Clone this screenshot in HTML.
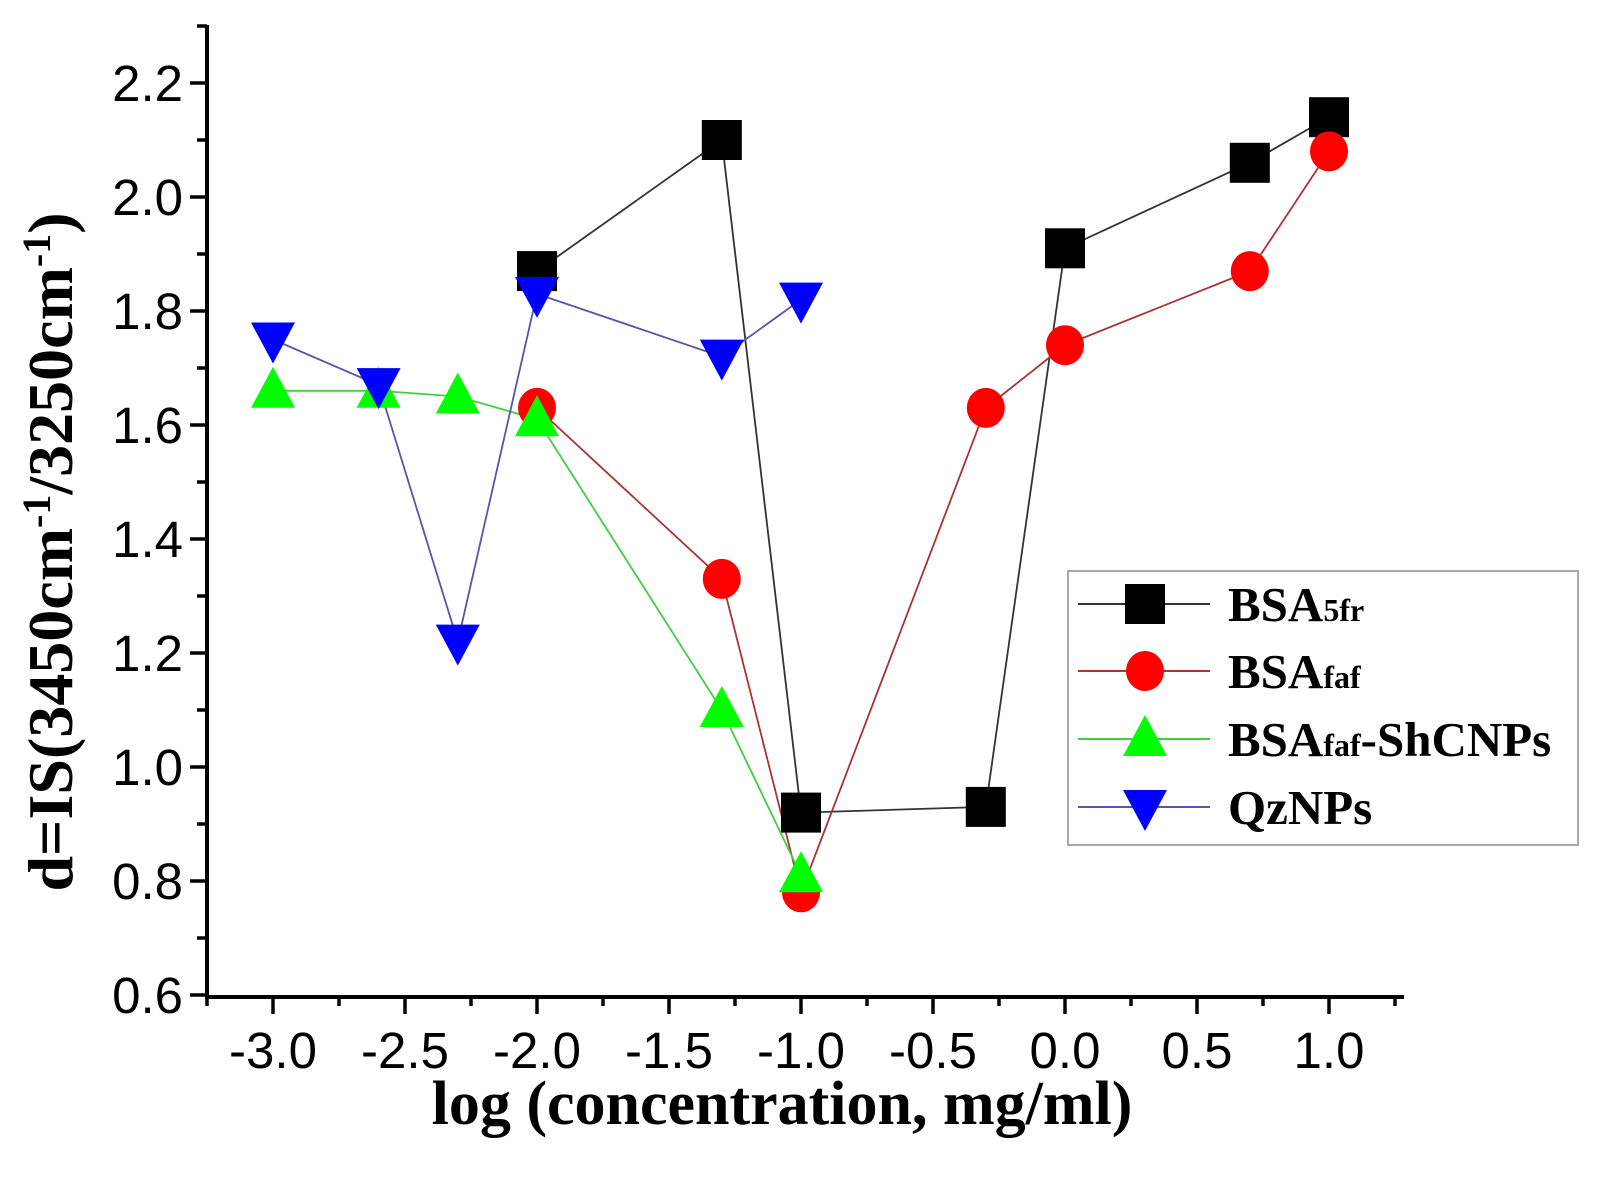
<!DOCTYPE html><html><head><style>body{margin:0;background:#fff}</style></head><body>
<svg id="s" width="1603" height="1183" xmlns="http://www.w3.org/2000/svg" font-family="Liberation Sans, sans-serif"></svg>
<script>
const s=document.getElementById('s');let h='';
const X=x=>273+(x+3)*264, Y=y=>995-(y-0.6)*570;
h+='<line x1="207" y1="25" x2="207" y2="997" stroke="#000" stroke-width="4"/>';
h+='<line x1="205" y1="997" x2="1404" y2="997" stroke="#000" stroke-width="4"/>';
for(let i=0;i<=17;i++){const v=0.6+i*0.1,y=Y(v),maj=i%2==0;
h+=`<line x1="${maj?190:197}" y1="${y}" x2="207" y2="${y}" stroke="#000" stroke-width="3.5"/>`;
if(maj)h+=`<text x="183" y="${y+18}" font-size="51" text-anchor="end">${v.toFixed(1)}</text>`;}
for(let i=-1;i<=17;i++){const v=-3+i*0.25,x=X(v),maj=i%2==0;if(x<207)continue;
h+=`<line x1="${x}" y1="997" x2="${x}" y2="${maj?1014:1006}" stroke="#000" stroke-width="3.5"/>`;
if(maj)h+=`<text x="${x}" y="1068" font-size="51" text-anchor="middle">${v.toFixed(1)}</text>`;}
h+='<text x="782" y="1124" font-size="62" font-weight="bold" font-family="Liberation Serif, serif" text-anchor="middle">log (concentration, mg/ml)</text>';
h+='<text transform="translate(72,552) rotate(-90)" font-size="64" font-weight="bold" font-family="Liberation Serif, serif" text-anchor="middle">d=IS(3450cm<tspan font-size="40" dy="-22">-1</tspan><tspan dy="22">/3250cm</tspan><tspan font-size="40" dy="-22">-1</tspan><tspan dy="22">)</tspan></text>';
const S=[
{c:'#000',l:'#333',m:'sq',d:[[-2,1.87],[-1.3,2.10],[-1,0.92],[-0.3,0.93],[0,1.91],[0.7,2.06],[1,2.14]]},
{c:'#f00',l:'#a33',m:'ci',d:[[-2,1.63],[-1.3,1.33],[-1,0.78],[-0.3,1.63],[0,1.74],[0.7,1.87],[1,2.08]]},
{c:'#0f0',l:'#4c4',m:'up',d:[[-3,1.66],[-2.6,1.66],[-2.3,1.65],[-2,1.61],[-1.3,1.10],[-1,0.81]]},
{c:'#00f',l:'#55a',m:'dn',d:[[-3,1.75],[-2.6,1.67],[-2.3,1.22],[-2,1.83],[-1.3,1.72],[-1,1.82]]}];
function mk(m,x,y,c){if(m=='sq')return `<rect x="${x-20}" y="${y-20}" width="40" height="40" fill="${c}"/>`;
if(m=='ci')return `<ellipse cx="${x}" cy="${y}" rx="19" ry="20" fill="${c}"/>`;
if(m=='up')return `<polygon points="${x},${y-24} ${x-22},${y+17} ${x+22},${y+17}" fill="${c}"/>`;
return `<polygon points="${x},${y+24} ${x-22},${y-17} ${x+22},${y-17}" fill="${c}"/>`;}
S.forEach(o=>{h+=`<polyline fill="none" stroke="${o.l}" stroke-width="1.8" points="${o.d.map(p=>X(p[0])+','+Y(p[1])).join(' ')}"/>`;});
[0,1,2,3].forEach(i=>{const o=S[i];o.d.forEach(p=>h+=mk(o.m,X(p[0]),Y(p[1]),o.c));});
h+='<rect x="1068" y="571" width="510" height="274" fill="#fff" stroke="#aaa" stroke-width="2"/>';
const lab=['BSA<tspan font-size="32">5fr</tspan>','BSA<tspan font-size="32">faf</tspan>','BSA<tspan font-size="32">faf</tspan>-ShCNPs','QzNPs'];
[604,671,739,807].forEach((y,i)=>{const o=S[i];h+=`<line x1="1078" y1="${y}" x2="1210" y2="${y}" stroke="${o.l}" stroke-width="2"/>`+mk(o.m,1145,y,o.c);
h+=`<text x="1228" y="${y+17}" font-size="49" font-weight="bold" font-family="Liberation Serif, serif">${lab[i]}</text>`;});
s.innerHTML=h;
</script></body></html>
